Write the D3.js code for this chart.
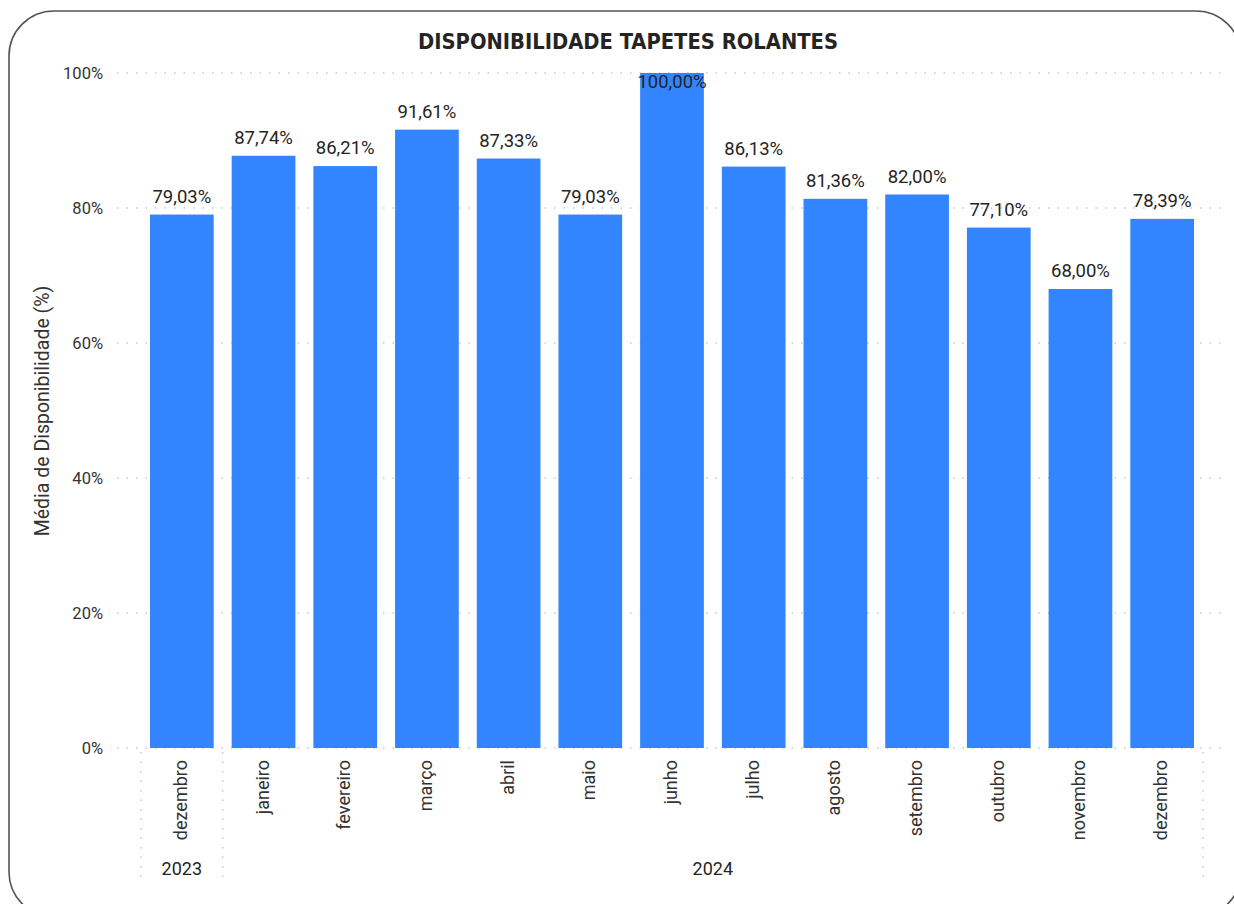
<!DOCTYPE html>
<html><head><meta charset="utf-8">
<script src="https://cdn.jsdelivr.net/npm/d3@7"></script>
<style>
body{margin:0;background:#fff;}
svg{display:block;}
</style></head>
<body>
<svg id="c" width="1234" height="904"></svg>
<script>
const months = ["dezembro","janeiro","fevereiro","março","abril","maio","junho","julho","agosto","setembro","outubro","novembro","dezembro"];
const years = ["2023","2024","2024","2024","2024","2024","2024","2024","2024","2024","2024","2024","2024"];
const values = [79.03,87.74,86.21,91.61,87.33,79.03,100.00,86.13,81.36,82.00,77.10,68.00,78.39];
const yTicks = [0,20,40,60,80,100];
const title = "DISPONIBILIDADE TAPETES ROLANTES";
const yTitle = "Média de Disponibilidade (%)";

const svg = d3.select("#c");
const font = "Roboto, 'Noto Sans', sans-serif";

// border
svg.append("rect").attr("x",9).attr("y",11).attr("width",1232).attr("height",906)
  .attr("rx",45).attr("ry",45)
  .attr("fill","none").attr("stroke","#555").attr("stroke-width",1.6);

svg.append("text").attr("x",628).attr("y",49).attr("text-anchor","middle")
  .attr("font-family","'DejaVu Sans Condensed', Roboto, sans-serif").attr("font-weight","bold")
  .attr("font-size",21).attr("fill","#252423")
  .attr("textLength",420).attr("lengthAdjust","spacingAndGlyphs").text(title);

const ids = d3.range(values.length);
const x = d3.scaleBand().domain(ids).range([141,1203]).paddingInner(0.22).paddingOuter(0.11);
const y = d3.scaleLinear().domain([0,100]).range([748,73]);

// gridlines
svg.append("g").selectAll("line").data(yTicks).join("line")
  .attr("x1",117).attr("x2",1222).attr("y1",d=>y(d)).attr("y2",d=>y(d))
  .attr("stroke","#c8c8c8").attr("stroke-width",1.5).attr("stroke-dasharray","1.5,8");

// y tick labels
svg.append("g").selectAll("text").data(yTicks).join("text")
  .attr("x",103).attr("y",d=>y(d)+6).attr("text-anchor","end")
  .attr("font-family",font).attr("font-size",16.5).attr("fill","#333")
  .text(d=>d+"%");

svg.append("text").attr("transform","translate(49,411) rotate(-90)")
  .attr("text-anchor","middle").attr("font-family",font).attr("font-size",19.5).attr("fill","#333")
  .text(yTitle);

// bars
svg.append("g").selectAll("rect").data(ids).join("rect")
  .attr("x",i=>x(i)).attr("width",x.bandwidth())
  .attr("y",i=>y(values[i])).attr("height",i=>y(0)-y(values[i]))
  .attr("fill","#3385FF");

const fmt = v => v.toFixed(2).replace(".",",")+"%";
svg.append("g").selectAll("text").data(ids).join("text")
  .attr("x",i=>x(i)+x.bandwidth()/2)
  .attr("y",i=>{const t=y(values[i]); return t-30<73 ? t+15 : t-12;})
  .attr("text-anchor","middle").attr("font-family",font).attr("font-size",18.5).attr("fill","#252423")
  .text(i=>fmt(values[i]));

// month labels
svg.append("g").selectAll("text").data(ids).join("text")
  .attr("transform",i=>`translate(${x(i)+x.bandwidth()/2+5},760) rotate(-90)`)
  .attr("text-anchor","end").attr("font-family",font).attr("font-size",18).attr("fill","#333")
  .text(i=>months[i]);

// year groups
const yearGroups = [];
years.forEach((yr,i)=>{
  const last = yearGroups[yearGroups.length-1];
  if(last && last.year===yr) last.end=i; else yearGroups.push({year:yr,start:i,end:i});
});
const step = x.step();
const gx = i => 141 + i*step;
const seps = [gx(0)].concat(yearGroups.map(g=>gx(g.end+1)));
svg.append("g").selectAll("line").data(seps).join("line")
  .attr("x1",d=>d).attr("x2",d=>d).attr("y1",752).attr("y2",884)
  .attr("stroke","#c8c8c8").attr("stroke-width",1.5).attr("stroke-dasharray","1.5,8");
svg.append("g").selectAll("text").data(yearGroups).join("text")
  .attr("x",g=>(gx(g.start)+gx(g.end+1))/2).attr("y",875)
  .attr("text-anchor","middle").attr("font-family",font).attr("font-size",18).attr("fill","#252423")
  .text(g=>g.year);
</script>
</body></html>
